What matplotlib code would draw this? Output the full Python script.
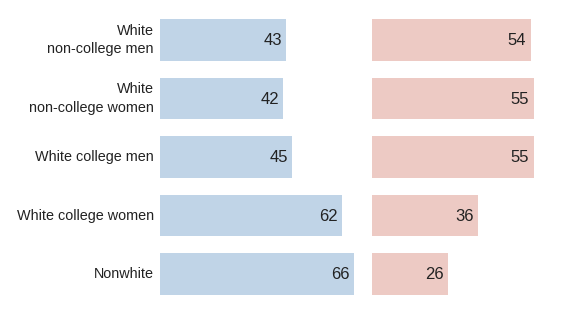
import matplotlib
matplotlib.use("Agg")
import matplotlib.pyplot as plt

groups = ["White\nnon-college men", "White\nnon-college women", "White college men",
          "White college women", "Nonwhite"]
dem = [43, 42, 45, 62, 66]
rep = [54, 55, 55, 36, 26]

BLUE = "#c0d4e7"
RED = "#edcac4"
INK = "#222222"
PX_PER_UNIT = 2.94

plt.rcParams["font.family"] = ["Liberation Sans", "DejaVu Sans"]

W, H = 564, 328
fig = plt.figure(figsize=(W / 100, H / 100), dpi=100)
fig.patch.set_facecolor("white")

top_px, bot_px = 19, 295
bar_h = 0.715


def panel(left_px, width_px, values, color, with_labels):
    ax = fig.add_axes([left_px / W, 1 - bot_px / H, width_px / W, (bot_px - top_px) / H])
    y = list(range(len(values)))
    ax.barh(y, values, height=bar_h, color=color, edgecolor="none")
    ax.set_xlim(0, width_px / PX_PER_UNIT)
    ax.set_ylim(len(values) - 1 + bar_h / 2, -bar_h / 2)
    for yi, v in zip(y, values):
        ax.annotate(str(v), (v, yi), xytext=(-3.2, -0.5), textcoords="offset points",
                    ha="right", va="center", fontsize=12, color=INK)
    if with_labels:
        for yi, g in zip(y, groups):
            ax.annotate(g, (0, yi), xytext=(-4.5, 0), textcoords="offset points",
                        ha="right", va="center", multialignment="right",
                        fontsize=10.4, color=INK, linespacing=1.38)
    ax.axis("off")
    return ax


panel(160, 200, dem, BLUE, True)
panel(372, 180, rep, RED, False)

fig.savefig("out.png", dpi=100, facecolor="white")
